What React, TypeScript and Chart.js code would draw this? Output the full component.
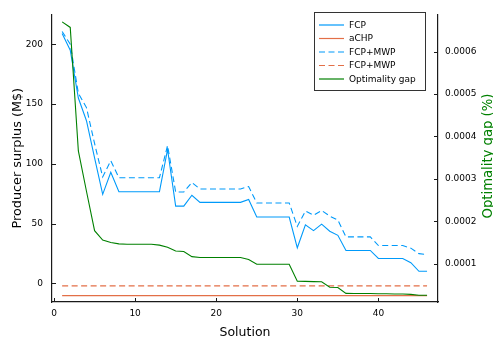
import React, { useEffect, useRef } from "react";
import { Chart, registerables } from "chart.js";
Chart.register(...registerables);

// ---- data ----
const solutions = [1, 2, 3, 4, 5, 6, 7, 8, 9, 10, 11, 12, 13, 14, 15, 16, 17, 18, 19, 20, 21, 22, 23, 24, 25, 26, 27, 28, 29, 30, 31, 32, 33, 34, 35, 36, 37, 38, 39, 40, 41, 42, 43, 44, 45, 46];

const fcp = [209, 195, 155, 136, 105, 74.5, 93, 76.7, 76.7, 76.7, 76.7, 76.7, 76.7, 112, 64.6, 64.6, 73.7, 67.8, 67.8, 67.8, 67.8, 67.8, 67.8, 70.2, 55.5, 55.5, 55.5, 55.5, 55.5, 29.8, 49, 44.2, 49.6, 43.7, 40.2, 27.6, 27.6, 27.6, 27.6, 20.9, 20.9, 20.9, 20.9, 17.4, 10.2, 10.2];

const fcpMwp = [210.6, 200, 159, 147, 117, 89, 102.6, 88.4, 88.4, 88.4, 88.4, 88.4, 88.4, 115.3, 76.4, 76.4, 84.4, 79, 79, 79, 79, 79, 79, 81, 67.3, 67.3, 67.3, 67.3, 67.3, 47.7, 60.5, 57, 61, 56.3, 53, 38.9, 38.9, 38.9, 38.9, 31.7, 31.7, 31.7, 31.7, 29.5, 24.9, 24.1];

const achp = [-10.1, -10.1, -10.1, -10.1, -10.1, -10.1, -10.1, -10.1, -10.1, -10.1, -10.1, -10.1, -10.1, -10.1, -10.1, -10.1, -10.1, -10.1, -10.1, -10.1, -10.1, -10.1, -10.1, -10.1, -10.1, -10.1, -10.1, -10.1, -10.1, -10.1, -10.1, -10.1, -10.1, -10.1, -10.1, -10.1, -10.1, -10.1, -10.1, -10.1, -10.1, -10.1, -10.1, -10.1, -10.1, -10.1];

const achpMwp = [-2.1, -2.1, -2.1, -2.1, -2.1, -2.1, -2.1, -2.1, -2.1, -2.1, -2.1, -2.1, -2.1, -2.1, -2.1, -2.1, -2.1, -2.1, -2.1, -2.1, -2.1, -2.1, -2.1, -2.1, -2.1, -2.1, -2.1, -2.1, -2.1, -2.1, -2.1, -2.1, -2.1, -2.1, -2.1, -2.1, -2.1, -2.1, -2.1, -2.1, -2.1, -2.1, -2.1, -2.1, -2.1, -2.1];

const optGap = [0.000670, 0.000657, 0.000366, 0.000271, 0.000178, 0.000156, 0.000150, 0.000147, 0.000146, 0.000146, 0.000146, 0.000146, 0.000144, 0.000139, 0.000130, 0.000129, 0.000117, 0.000115, 0.000115, 0.000115, 0.000115, 0.000115, 0.000115, 0.000110, 0.000099, 0.000099, 0.000099, 0.000099, 0.000099, 0.000059, 0.0000585, 0.000058, 0.0000576, 0.0000447, 0.000044, 0.0000304, 0.0000302, 0.0000300, 0.0000300, 0.0000295, 0.0000293, 0.0000290, 0.0000288, 0.0000280, 0.0000259, 0.0000259];

const xTicks = [0, 10, 20, 30, 40];
const yTicks = [0, 50, 100, 150, 200];
const y2Ticks = [0.0001, 0.0002, 0.0003, 0.0004, 0.0005, 0.0006];

const legendLabels = ["FCP", "aCHP", "FCP+MWP", "FCP+MWP", "Optimality gap"];

// ---- style ----
const BLUE = "#009AFA";
const ORANGE = "#E36F47";
const GREEN = "#008000";
const AXIS = "#1a1a1a";
const FONT = '"DejaVu Sans", sans-serif';
const DASH = [6, 3.5];

const pts = (ys: number[]) => solutions.map((x, i) => ({ x, y: ys[i] }));

const decor = {
  id: "decor",
  afterDraw(chart: any) {
    const ctx = chart.ctx as CanvasRenderingContext2D;
    const a = chart.chartArea;
    ctx.save();
    // inward tick marks
    ctx.strokeStyle = AXIS;
    ctx.lineWidth = 1;
    const xs = chart.scales.x;
    const ys = chart.scales.y;
    const y2 = chart.scales.y2;
    ctx.beginPath();
    xs.ticks.forEach((t: any) => {
      const p = Math.round(xs.getPixelForValue(t.value)) + 0.5;
      ctx.moveTo(p, a.bottom);
      ctx.lineTo(p, a.bottom - 4);
    });
    ys.ticks.forEach((t: any) => {
      const p = Math.round(ys.getPixelForValue(t.value)) + 0.5;
      ctx.moveTo(a.left, p);
      ctx.lineTo(a.left + 4, p);
    });
    y2.ticks.forEach((t: any) => {
      const p = Math.round(y2.getPixelForValue(t.value)) + 0.5;
      ctx.moveTo(a.right, p);
      ctx.lineTo(a.right - 4, p);
    });
    ctx.stroke();

    // legend
    const lx = 314.5, ly = 12.5, lw = 111, lh = 78;
    ctx.fillStyle = "#ffffff";
    ctx.fillRect(lx, ly, lw, lh);
    ctx.strokeStyle = "#333333";
    ctx.lineWidth = 1;
    ctx.strokeRect(lx, ly, lw, lh);
    const styles = [
      { c: BLUE, d: [] as number[] },
      { c: ORANGE, d: [] as number[] },
      { c: BLUE, d: DASH },
      { c: ORANGE, d: DASH },
      { c: GREEN, d: [] as number[] },
    ];
    ctx.font = `9px ${FONT}`;
    ctx.textBaseline = "middle";
    ctx.textAlign = "left";
    legendLabels.forEach((lab, i) => {
      const yy = 25 + i * 13.5;
      ctx.strokeStyle = styles[i].c;
      ctx.setLineDash(styles[i].d);
      ctx.lineWidth = 1.2;
      ctx.beginPath();
      ctx.moveTo(319, yy);
      ctx.lineTo(344, yy);
      ctx.stroke();
      ctx.setLineDash([]);
      ctx.fillStyle = "#000000";
      ctx.fillText(lab, 349, yy + 0.5);
    });

    // axis titles
    ctx.fillStyle = "#000000";
    ctx.font = `12.5px ${FONT}`;
    ctx.textAlign = "center";
    ctx.textBaseline = "alphabetic";
    ctx.fillText("Solution", (a.left + a.right) / 2, 336);

    ctx.save();
    ctx.translate(21, (a.top + a.bottom) / 2);
    ctx.rotate(-Math.PI / 2);
    ctx.font = `12.8px ${FONT}`;
    ctx.fillText("Producer surplus (M$)", 0, 0);
    ctx.restore();

    ctx.save();
    ctx.translate(491.5, 156);
    ctx.rotate(-Math.PI / 2);
    ctx.font = `13.2px ${FONT}`;
    ctx.fillStyle = GREEN;
    ctx.fillText("Optimality gap (%)", 0, 0);
    ctx.restore();

    ctx.restore();
  },
};

export default function App() {
  const ref = useRef<HTMLCanvasElement | null>(null);
  useEffect(() => {
    if (!ref.current) return;
    const tickFont = { family: FONT, size: 9 };
    const chart = new Chart(ref.current, {
      type: "line",
      data: {
        datasets: [
          { label: "Optimality gap", data: pts(optGap), yAxisID: "y2", borderColor: GREEN, borderWidth: 1.1, pointRadius: 0, fill: false, tension: 0 },
          { label: "FCP+MWP", data: pts(achpMwp), yAxisID: "y", borderColor: ORANGE, borderWidth: 1.2, borderDash: DASH, pointRadius: 0, fill: false, tension: 0 },
          { label: "FCP+MWP", data: pts(fcpMwp), yAxisID: "y", borderColor: BLUE, borderWidth: 1.1, borderDash: DASH, pointRadius: 0, fill: false, tension: 0 },
          { label: "aCHP", data: pts(achp), yAxisID: "y", borderColor: ORANGE, borderWidth: 1.3, pointRadius: 0, fill: false, tension: 0 },
          { label: "FCP", data: pts(fcp), yAxisID: "y", borderColor: BLUE, borderWidth: 1.1, pointRadius: 0, fill: false, tension: 0 },
        ],
      },
      options: {
        animation: false,
        responsive: false,
        devicePixelRatio: 1,
        layout: { padding: { top: 3, left: 0, right: 0, bottom: 0 }, autoPadding: false },
        plugins: { legend: { display: false }, tooltip: { enabled: false }, title: { display: false } },
        scales: {
          x: {
            type: "linear",
            position: "bottom",
            min: -0.25,
            max: 47.35,
            afterBuildTicks: (s: any) => { s.ticks = xTicks.map((v) => ({ value: v })); },
            afterFit: (s: any) => { s.height = 37; },
            grid: { display: false, drawTicks: false },
            border: { display: true, color: AXIS, width: 1.2 },
            ticks: { font: tickFont, color: "#000", padding: 6, maxRotation: 0, autoSkip: false, callback: (v: any) => String(v) },
          },
          y: {
            type: "linear",
            position: "left",
            min: -15.5,
            max: 224.9,
            afterBuildTicks: (s: any) => { s.ticks = yTicks.map((v) => ({ value: v })); },
            afterFit: (s: any) => { s.width = 52; },
            grid: { display: false, drawTicks: false },
            border: { display: true, color: AXIS, width: 1.2 },
            ticks: { font: tickFont, color: "#000", padding: 9, autoSkip: false, callback: (v: any) => String(v) },
          },
          y2: {
            type: "linear",
            position: "right",
            min: 0.00001,
            max: 0.0006877,
            afterBuildTicks: (s: any) => { s.ticks = y2Ticks.map((v) => ({ value: v })); },
            afterFit: (s: any) => { s.width = 55; },
            grid: { display: false, drawTicks: false },
            border: { display: true, color: AXIS, width: 1.2 },
            ticks: { font: tickFont, color: "#000", padding: 7, autoSkip: false, callback: (v: any) => Number(v).toFixed(4) },
          },
        },
      } as any,
      plugins: [decor],
    });
    return () => chart.destroy();
  }, []);
  return (
    <div style={{ position: "absolute", left: 0, top: 0, width: 493, height: 339, background: "#fff" }}>
      <canvas ref={ref} width={493} height={339} style={{ display: "block", width: 493, height: 339 }} />
    </div>
  );
}
